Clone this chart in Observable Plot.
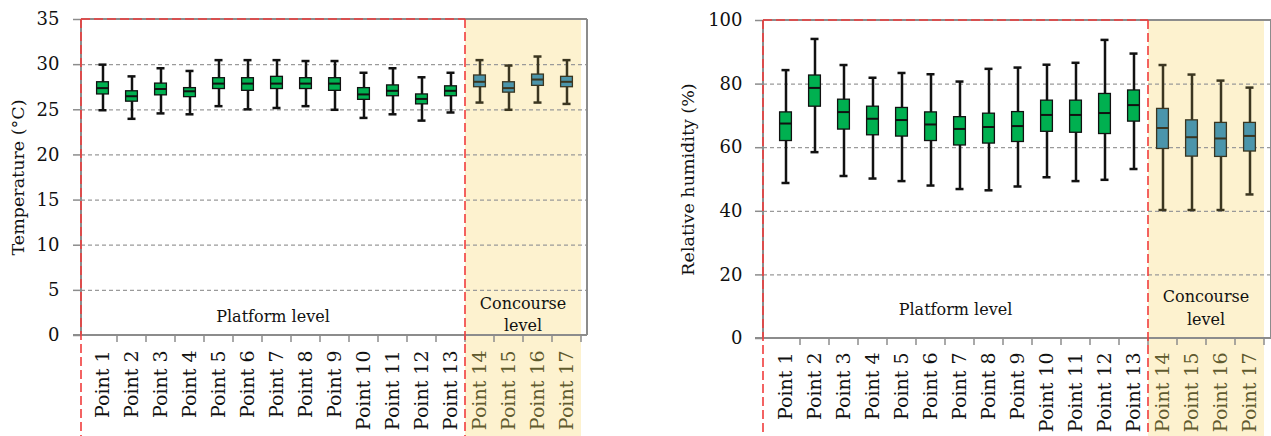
<!DOCTYPE html>
<html><head><meta charset="utf-8">
<script src="https://cdn.jsdelivr.net/npm/d3@7"></script>
<script src="https://cdn.jsdelivr.net/npm/@observablehq/plot@0.6"></script>
<style>
html,body{margin:0;padding:0;background:#fff;}
#wrap{display:flex;width:1271px;height:436px;overflow:hidden;}
#wrap svg{display:block;flex:none;}
#wrap svg, #wrap svg text{font-family:"DejaVu Serif" !important;}
</style></head><body><div id="wrap"></div>
<script>
// ---- data ----
const points = ["Point 1","Point 2","Point 3","Point 4","Point 5","Point 6","Point 7","Point 8","Point 9","Point 10","Point 11","Point 12","Point 13","Point 14","Point 15","Point 16","Point 17"];
const groups = ["Platform","Platform","Platform","Platform","Platform","Platform","Platform","Platform","Platform","Platform","Platform","Platform","Platform","Concourse","Concourse","Concourse","Concourse"];

const tempMin = [24.95,24.0,24.6,24.5,25.4,25.05,25.2,25.4,25.0,24.1,24.5,23.8,24.7,25.8,25.0,25.8,25.65];
const tempQ1  = [26.7,25.9,26.6,26.4,27.3,27.1,27.3,27.3,27.1,26.1,26.5,25.6,26.5,27.5,26.9,27.65,27.5];
const tempMed = [27.4,26.5,27.3,27.05,27.9,27.9,27.9,27.9,27.9,26.7,27.1,26.2,27.1,28.1,27.4,28.35,28.1];
const tempQ3  = [28.05,27.05,27.9,27.4,28.5,28.5,28.65,28.5,28.5,27.4,27.7,26.7,27.6,28.8,28.05,28.9,28.65];
const tempMax = [30.0,28.7,29.6,29.3,30.5,30.5,30.5,30.4,30.4,29.1,29.6,28.6,29.1,30.5,29.9,30.9,30.5];

const rhMin = [48.9,58.6,51.1,50.3,49.5,48.1,47.0,46.6,47.8,50.7,49.5,49.9,53.3,40.4,40.4,40.4,45.3];
const rhQ1  = [62.1,72.9,65.7,63.9,63.5,62.1,60.7,61.3,61.8,65.0,64.7,64.3,68.2,59.6,57.2,57.1,58.8];
const rhMed = [67.6,78.8,71.2,69.1,68.7,67.3,65.9,66.5,66.8,70.3,70.3,70.9,73.4,66.2,63.3,62.9,63.7];
const rhQ3  = [71.1,82.7,75.1,72.9,72.5,71.1,69.6,70.7,71.2,74.8,74.8,76.9,78.0,72.2,68.6,67.8,67.8];
const rhMax = [84.4,94.2,86.0,82.0,83.5,83.1,80.8,84.8,85.2,86.1,86.7,93.9,89.6,86.0,83.0,81.1,78.9];

const tempTicks = [0,5,10,15,20,25,30,35];
const rhTicks = [0,20,40,60,80,100];
const platformLabel = ["Platform level"];
const concourseLabel = ["Concourse","level"];

// ---- styles ----
const C = {
  green: "#00b050", blue: "#4b95ab",
  darkP: "#111111", darkC: "#3b3620",
  yellow: "#fdf2cf", gray: "#8c8c8c", grid: "#9a9a9a",
  red: "#f03c3c", labelC: "#5f5a2e"
};

function makeRows(mins, q1s, meds, q3s, maxs) {
  return points.map((p, i) => ({point: p, group: groups[i], min: mins[i], q1: q1s[i], med: meds[i], q3: q3s[i], max: maxs[i]}));
}

function chart(cfg) {
  const rows = makeRows(...cfg.stats);
  const plat = rows.filter(d => d.group === "Platform");
  const conc = rows.filter(d => d.group === "Concourse");
  const strokeOf = d => d.group === "Platform" ? C.darkP : C.darkC;
  const fillOf = d => d.group === "Platform" ? C.green : C.blue;

  const background = (index, scales, values, dim) => {
    const x = scales.x, bw = x.bandwidth();
    const x0 = x(points[13]), x1 = x(points[16]) + bw;
    const g = d3.create("svg:g");
    g.append("rect").attr("x", x0).attr("y", dim.marginTop)
      .attr("width", x1 - x0).attr("height", dim.height - dim.marginTop).attr("fill", C.yellow);
    return g.node();
  };

  const frame = (index, scales, values, dim) => {
    const x = scales.x, bw = x.bandwidth();
    const left = dim.marginLeft, right = dim.width - dim.marginRight;
    const top = dim.marginTop, bottom = dim.height - dim.marginBottom;
    const g = d3.create("svg:g").attr("fill", "none");
    const line = (x1, y1, x2, y2, stroke, w) => g.append("line").attr("x1", x1).attr("y1", y1).attr("x2", x2).attr("y2", y2)
        .attr("stroke", stroke).attr("stroke-width", w);
    line(left, top, right, top, C.gray, 2);
    line(right, top, right, bottom, C.gray, 2);
    line(left, top, left, bottom, C.gray, 2);
    line(left - 8, bottom, right, bottom, C.gray, 2);
    points.forEach((p) => { const xx = x(p) + bw; line(xx, bottom, xx, bottom + 7, C.gray, 1.5); });
    return g.node();
  };

  const overlay = (index, scales, values, dim) => {
    const x = scales.x, bw = x.bandwidth();
    const left = dim.marginLeft;
    const top = dim.marginTop, bottom = dim.height - dim.marginBottom;
    const div = x(points[13]);
    const g = d3.create("svg:g");
    const line = (x1, y1, x2, y2) => g.append("line").attr("x1", x1).attr("y1", y1).attr("x2", x2).attr("y2", y2)
      .attr("stroke", C.red).attr("stroke-width", 1.6).attr("stroke-dasharray", "9,4").attr("fill", "none");
    line(left, top, div, top);
    line(left, top, left, dim.height);
    line(div, top, div, dim.height);
    g.append("text").attr("x", (left + div) / 2).attr("y", bottom + cfg.platformDy)
      .attr("text-anchor", "middle").attr("dominant-baseline", "central").attr("font-size", 16)
      .attr("fill", "#111").text(platformLabel[0]);
    const cx = (div + x(points[16]) + bw) / 2;
    concourseLabel.forEach((t, i) => {
      g.append("text").attr("x", cx).attr("y", bottom + cfg.concourseDy[i])
        .attr("text-anchor", "middle").attr("dominant-baseline", "central").attr("font-size", 16)
        .attr("fill", "#111").text(t);
    });
    return g.node();
  };

  return Plot.plot({
    width: cfg.width, height: 436,
    marginLeft: cfg.marginLeft, marginRight: cfg.marginRight,
    marginTop: cfg.marginTop, marginBottom: cfg.marginBottom,
    style: {fontSize: "18px", background: "transparent", color: "#111"},
    x: {type: "band", domain: points, padding: 0, axis: null},
    y: {domain: cfg.domain, nice: false},
    color: {type: "identity"},
    marks: [
      background,
      Plot.gridY({ticks: cfg.ticks.slice(1, -1), stroke: C.grid, strokeOpacity: 1, strokeWidth: 1.2, strokeDasharray: "4,3"}),
      frame,
      Plot.axisY({ticks: cfg.ticks, tickSize: 8, tickPadding: cfg.tickPadding, stroke: C.gray, strokeWidth: 1.5, label: null, fill: "#111", fontSize: 18}),
      Plot.ruleX(rows, {x: "point", y1: "min", y2: "max", stroke: strokeOf, strokeWidth: 2.5}),
      Plot.tickY(rows, {x: "point", y: "min", stroke: strokeOf, strokeWidth: 2.5, insetLeft: 10.5, insetRight: 10.5}),
      Plot.tickY(rows, {x: "point", y: "max", stroke: strokeOf, strokeWidth: 2.5, insetLeft: 10.5, insetRight: 10.5}),
      Plot.barY(rows, {x: "point", y1: "q1", y2: "q3", fill: fillOf, stroke: strokeOf, strokeWidth: 1.3, insetLeft: 8.6, insetRight: 8.6}),
      Plot.tickY(rows, {x: "point", y: "med", stroke: strokeOf, strokeWidth: 2, insetLeft: 8.6, insetRight: 8.6}),
      overlay,
      Plot.text(plat, {x: "point", text: "point", frameAnchor: "bottom", rotate: -90, textAnchor: "end", lineAnchor: "middle", dy: cfg.labelDy, fontSize: 19, fill: "#111"}),
      Plot.text(conc, {x: "point", text: "point", frameAnchor: "bottom", rotate: -90, textAnchor: "end", lineAnchor: "middle", dy: cfg.labelDy, fontSize: 19, fill: C.labelC}),
      Plot.text([cfg.title], {text: d => d, frameAnchor: "left", rotate: -90, dx: cfg.titleDx, textAnchor: "middle", lineAnchor: "middle", fontSize: 17.5, fill: "#111"})
    ]
  });
}

const wrap = document.getElementById("wrap");
wrap.append(chart({
  width: 630, marginLeft: 81, marginRight: 43, marginTop: 19, marginBottom: 101,
  domain: [0, 35], ticks: tempTicks, tickPadding: 14,
  stats: [tempMin, tempQ1, tempMed, tempQ3, tempMax],
  title: "Temperature (°C)", titleDx: -63,
  platformDy: -19, concourseDy: [-32, -10], labelDy: 15
}));
wrap.append(chart({
  width: 641, marginLeft: 133, marginRight: 0, marginTop: 20, marginBottom: 98,
  domain: [0, 100], ticks: rhTicks, tickPadding: 13,
  stats: [rhMin, rhQ1, rhMed, rhQ3, rhMax],
  title: "Relative humidity (%)", titleDx: -75,
  platformDy: -29, concourseDy: [-42, -19], labelDy: 14
}));
</script>
</body></html>
